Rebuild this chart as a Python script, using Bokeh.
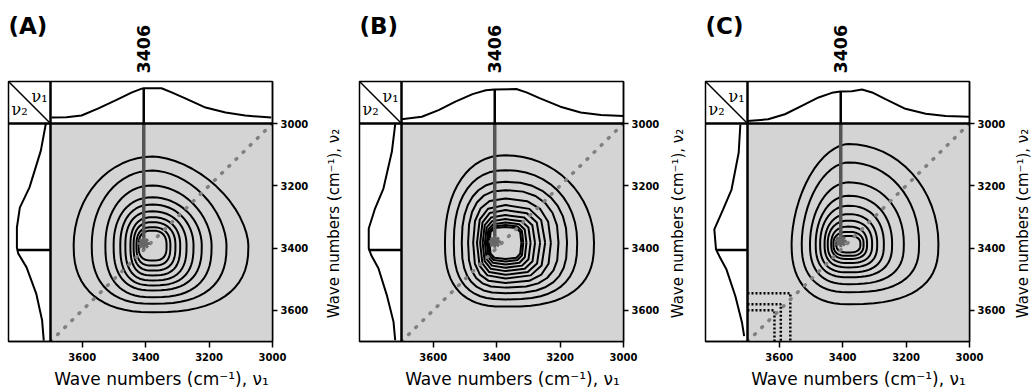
import numpy as np
from bokeh.plotting import figure
from bokeh.models import Range1d, FixedTicker, Label, Span
from bokeh.layouts import row, column
from bokeh.embed import file_html
from bokeh.resources import INLINE

# ---------------- data ----------------
panel_labels = ["(A)", "(B)", "(C)"]
peak_label = "3406"
peak_pos = 3406
peak_cross_v2 = [3385, 3380, 3378]
tick_values = [3000, 3200, 3400, 3600]
x_title = "Wave numbers (cm\u207b\u00b9), \u03bd\u2081"
y_title = "Wave numbers (cm\u207b\u00b9), \u03bd\u2082"
corner_v1 = "\u03bd\u2081"
corner_v2 = "\u03bd\u2082"

# top 1D spectra: wavenumber / relative height inside the top box
A_top_nu = [3697, 3650, 3602, 3549, 3495, 3443, 3412, 3406, 3350, 3318, 3275, 3211, 3148, 3086, 3004]
A_top_amp = [0.14, 0.15, 0.19, 0.36, 0.55, 0.74, 0.83, 0.84, 0.84, 0.74, 0.60, 0.38, 0.26, 0.19, 0.14]
B_top_nu = [3700, 3636, 3583, 3530, 3476, 3434, 3407, 3338, 3306, 3263, 3199, 3135, 3071, 3000]
B_top_amp = [0.10, 0.16, 0.32, 0.52, 0.70, 0.79, 0.81, 0.82, 0.74, 0.60, 0.40, 0.26, 0.20, 0.18]
C_top_nu = [3700, 3635, 3582, 3529, 3476, 3434, 3407, 3371, 3339, 3307, 3265, 3202, 3138, 3075, 3001]
C_top_amp = [0.06, 0.10, 0.22, 0.42, 0.62, 0.73, 0.76, 0.77, 0.81, 0.74, 0.58, 0.35, 0.23, 0.18, 0.16]
top_peak_amp = [0.84, 0.81, 0.76]

# left 1D spectra: wavenumber / relative width inside the left box
A_left_nu = [3000, 3087, 3205, 3270, 3334, 3398, 3417, 3462, 3546, 3632, 3697]
A_left_amp = [0.11, 0.23, 0.50, 0.73, 0.80, 0.80, 0.77, 0.57, 0.34, 0.20, 0.16]
B_left_nu = [3003, 3091, 3209, 3273, 3337, 3401, 3423, 3465, 3551, 3637, 3696]
B_left_amp = [0.15, 0.23, 0.43, 0.63, 0.78, 0.78, 0.72, 0.55, 0.35, 0.19, 0.15]
C_left_nu = [3003, 3094, 3212, 3276, 3340, 3404, 3426, 3469, 3554, 3640, 3683]
C_left_amp = [0.17, 0.21, 0.38, 0.58, 0.79, 0.75, 0.67, 0.50, 0.29, 0.13, 0.08]
left_peak_amp = [0.80, 0.78, 0.75]

# contours of the 2D map (outer -> inner): where each contour crosses the
# row / column through the peak centre
A_center = [3378, 3392]
A_c_right = [3076, 3145, 3192, 3223, 3249, 3271, 3291, 3306, 3322, 3334]
A_c_left = [3627, 3570, 3527, 3501, 3480, 3464, 3448, 3438, 3429, 3422]
A_c_top = [3106, 3151, 3199, 3237, 3260, 3282, 3301, 3317, 3333, 3344]
A_c_bottom = [3606, 3579, 3558, 3536, 3520, 3504, 3488, 3472, 3456, 3440]

B_center = [3372, 3383]
B_c_right = [3093, 3146, 3178, 3205, 3229, 3247, 3263, 3279, 3293, 3306, 3316, 3322]
B_c_left = [3563, 3535, 3510, 3490, 3474, 3462, 3452, 3444, 3437, 3431, 3427, 3423]
B_c_top = [3102, 3150, 3187, 3214, 3241, 3262, 3278, 3294, 3307, 3318, 3326, 3332]
B_c_bottom = [3588, 3565, 3545, 3527, 3512, 3498, 3486, 3474, 3463, 3453, 3443, 3435]

C_center = [3382, 3387]
C_c_right = [3098, 3159, 3207, 3244, 3270, 3291, 3307, 3323, 3334, 3344]
C_c_left = [3561, 3529, 3503, 3485, 3471, 3457, 3447, 3436, 3429, 3420]
C_c_top = [3066, 3125, 3189, 3232, 3264, 3291, 3312, 3331, 3348, 3361]
C_c_bottom = [3580, 3542, 3516, 3494, 3478, 3462, 3448, 3435, 3425, 3414]

# noise feature in panel C near the low-frequency corner (corner points of L-shaped traces)
C_noise_x = [3615, 3595, 3565]
C_noise_y = [3600, 3580, 3545]

# ---------------- styling / layout ----------------
# contour roundness per quadrant (up-right, up-left, low-left, low-right) for the
# outer and the inner contour, and the number of segments per quadrant of each contour
A_shape = ([1.7, 2.0, 2.4, 2.5], [2.5, 2.7, 2.9, 2.9], [16] * 10)
B_shape = ([2.0, 2.2, 2.6, 2.6], [3.6, 3.6, 3.6, 3.6], [16, 12, 8, 6, 4, 3, 3, 3, 3, 3, 3, 3])
C_shape = ([2.0, 1.8, 2.4, 2.6], [2.5, 2.5, 2.8, 2.8], [16] * 10)

FRAME_W, FRAME_H = 264, 260
LEFT_PX, TOP_PX = 42, 42
XU = 700 / (FRAME_W - LEFT_PX)
YU = 700 / (FRAME_H - TOP_PX)
X_MAIN0, X_MAIN1 = 3700, 3000
Y_MAIN0, Y_MAIN1 = 3000, 3700
X_LEFT = X_MAIN0 + LEFT_PX * XU
Y_TOP = Y_MAIN0 - TOP_PX * YU
TOP_H = Y_MAIN0 - Y_TOP
LEFT_W = X_LEFT - X_MAIN0
FONT = "DejaVu Sans"
HEAD_H = 80
BOTTOM = 24
FOOT_H = 26
TOTAL_H = HEAD_H + 1 + FRAME_H + BOTTOM + FOOT_H


def bare(fig):
    fig.outline_line_color = None
    fig.background_fill_color = "white"
    fig.border_fill_color = "white"
    fig.grid.visible = False
    return fig


def contour_paths(center, right, left, top, bottom, shape):
    n_out, n_in, segs = shape
    cx, cy = center
    xs, ys = [], []
    count = len(right)
    for k in range(count):
        th = np.linspace(0, np.pi / 2, segs[k] + 1)
        c, s = np.cos(th), np.sin(th)
        f = k / (count - 1)
        n = [n_out[q] + (n_in[q] - n_out[q]) * f for q in range(4)]
        ar, al = cx - right[k], left[k] - cx
        at, ab = cy - top[k], bottom[k] - cy
        px, py = [], []
        # up-right: right -> top
        px += list(cx - ar * c ** (2 / n[0])); py += list(cy - at * s ** (2 / n[0]))
        # up-left: top -> left
        px += list(cx + al * c[::-1] ** (2 / n[1])); py += list(cy - at * s[::-1] ** (2 / n[1]))
        # low-left: left -> bottom
        px += list(cx + al * c ** (2 / n[2])); py += list(cy + ab * s ** (2 / n[2]))
        # low-right: bottom -> right
        px += list(cx - ar * c[::-1] ** (2 / n[3])); py += list(cy + ab * s[::-1] ** (2 / n[3]))
        xs.append(px)
        ys.append(py)
    return xs, ys


def make_panel(i, top_nu, top_amp, left_nu, left_amp, cont, shape,
               bl, br, side_w, side_x, noise=None):
    xr = Range1d(X_LEFT, X_MAIN1)
    p = figure(frame_width=FRAME_W, frame_height=FRAME_H,
               min_border_left=bl, min_border_right=br, min_border_top=1, min_border_bottom=BOTTOM,
               x_range=xr, y_range=Range1d(Y_MAIN1, Y_TOP),
               y_axis_location="right", output_backend="svg", toolbar_location=None, tools="")
    p.xgrid.visible = False
    p.ygrid.visible = False
    p.outline_line_color = "black"
    p.outline_line_width = 1.5
    p.outline_line_alpha = 1.0
    p.background_fill_color = "white"
    p.border_fill_color = "white"
    for ax in (p.xaxis[0], p.yaxis[0]):
        ax.ticker = FixedTicker(ticks=tick_values)
        ax.major_tick_in = 0
        ax.minor_tick_line_color = None
        ax.axis_line_color = "black"
        ax.axis_line_width = 1.5
        ax.major_tick_line_color = "black"
        ax.major_tick_line_width = 1.5
        ax.major_label_text_font = FONT
        ax.major_label_text_font_size = "10px"
        ax.major_label_text_font_style = "bold"
        ax.major_label_text_color = "black"
    p.xaxis[0].major_tick_out = 6
    p.xaxis[0].major_label_standoff = 5
    p.yaxis[0].major_tick_out = 5
    p.yaxis[0].major_label_standoff = 3

    # gray correlation area
    p.quad(left=[X_MAIN0], right=[X_MAIN1], top=[Y_MAIN0], bottom=[Y_MAIN1],
           fill_color="#d4d4d4", line_color=None)

    # contour lines
    xs, ys = contour_paths(*cont, shape)
    p.multi_line(xs, ys, line_color="black", line_width=2, line_join="round")

    if noise is not None:
        nx, ny = noise
        nxs = [[X_MAIN0, cx, cx] for cx in nx]
        nys = [[cy, cy, Y_MAIN1] for cy in ny]
        p.multi_line(nxs, nys, line_color="black", line_width=2.5, line_dash="2 2")

    # diagonal
    p.line([Y_MAIN1, X_MAIN1], [Y_MAIN1, Y_MAIN0], line_color="#808080", line_width=3.5,
           line_dash="1 9", line_cap="round")

    # peak marker line
    pc = peak_cross_v2[i]
    p.line([peak_pos, peak_pos], [Y_MAIN0, pc], line_color="#555555", line_width=3.5)
    p.scatter([peak_pos], [pc], marker="asterisk", size=12, line_color="#666666", line_width=3)

    # box separators
    p.add_layout(Span(location=Y_MAIN0, dimension="width", line_color="black", line_width=2.5))
    p.add_layout(Span(location=X_MAIN0, dimension="height", line_color="black", line_width=2.5))

    # top spectrum
    p.line(top_nu, [Y_MAIN0 - a * TOP_H for a in top_amp], line_color="black", line_width=2)
    p.line([peak_pos, peak_pos], [Y_MAIN0 - top_peak_amp[i] * TOP_H, Y_MAIN0],
           line_color="black", line_width=2.5)
    # left spectrum
    p.line([X_MAIN0 + a * LEFT_W for a in left_amp], left_nu, line_color="black", line_width=2)
    p.line([X_MAIN0, X_MAIN0 + left_peak_amp[i] * LEFT_W], [peak_pos, peak_pos],
           line_color="black", line_width=2.5)

    # corner box
    p.line([X_LEFT, X_MAIN0], [Y_TOP, Y_MAIN0], line_color="black", line_width=1.5)
    p.add_layout(Label(x=X_LEFT - 31 * XU, y=Y_TOP + 15 * YU, text=corner_v1,
                       text_font="DejaVu Serif", text_font_size="16px", text_align="center",
                       text_baseline="middle", text_color="black"))
    p.add_layout(Label(x=X_LEFT - 11 * XU, y=Y_TOP + 28 * YU, text=corner_v2,
                       text_font="DejaVu Serif", text_font_size="16px", text_align="center",
                       text_baseline="middle", text_color="black"))

    # header strip: panel letter and peak position
    h = figure(frame_width=FRAME_W, frame_height=HEAD_H, min_border_left=bl, min_border_right=br,
               min_border_top=0, min_border_bottom=0, x_range=xr, y_range=Range1d(0, HEAD_H),
               x_axis_location=None, y_axis_location=None,
               output_backend="svg", toolbar_location=None, tools="")
    bare(h)
    h.add_layout(Label(x=X_LEFT, y=HEAD_H - 12, text=panel_labels[i], text_font=FONT,
                       text_font_size="23px", text_font_style="bold", text_align="left",
                       text_baseline="top", text_color="black"))
    h.add_layout(Label(x=peak_pos, y=7, text=peak_label, text_font=FONT,
                       text_font_size="17.5px", text_font_style="bold", angle=np.pi / 2,
                       text_align="left", text_baseline="middle", text_color="black"))

    # footer strip: horizontal axis title, centred on the grey map
    f = figure(frame_width=FRAME_W, frame_height=FOOT_H, min_border_left=bl, min_border_right=br,
               min_border_top=0, min_border_bottom=0, x_range=xr, y_range=Range1d(0, FOOT_H),
               x_axis_location=None, y_axis_location=None,
               output_backend="svg", toolbar_location=None, tools="")
    bare(f)
    f.add_layout(Label(x=(X_MAIN0 + X_MAIN1) / 2, y=FOOT_H - 13, text=x_title, text_font=FONT,
                       text_font_size="17px", text_align="center", text_baseline="middle",
                       text_color="black"))

    # side strip: vertical axis title
    s = figure(frame_width=side_w, frame_height=TOTAL_H, min_border_left=0, min_border_right=0,
               min_border_top=0, min_border_bottom=0,
               x_range=Range1d(0, side_w), y_range=Range1d(0, TOTAL_H),
               x_axis_location=None, y_axis_location=None,
               output_backend="svg", toolbar_location=None, tools="")
    bare(s)
    s.add_layout(Label(x=side_x, y=TOTAL_H - 223, text=y_title, text_font=FONT,
                       text_font_size="15px", angle=np.pi / 2, text_align="center",
                       text_baseline="middle", text_color="black"))
    return row(column(h, p, f), s)


pA = make_panel(0, A_top_nu, A_top_amp, A_left_nu, A_left_amp,
                (A_center, A_c_right, A_c_left, A_c_top, A_c_bottom), A_shape,
                bl=8, br=37, side_w=38, side_x=22.5)
pB = make_panel(1, B_top_nu, B_top_amp, B_left_nu, B_left_amp,
                (B_center, B_c_right, B_c_left, B_c_top, B_c_bottom), B_shape,
                bl=10, br=37, side_w=36, side_x=15)
pC = make_panel(2, C_top_nu, C_top_amp, C_left_nu, C_left_amp,
                (C_center, C_c_right, C_c_left, C_c_top, C_c_bottom), C_shape,
                bl=7, br=37, side_w=26, side_x=14, noise=(C_noise_x, C_noise_y))

layout = row(pA, pB, pC)
open("out.html", "w").write(file_html(layout, INLINE))
